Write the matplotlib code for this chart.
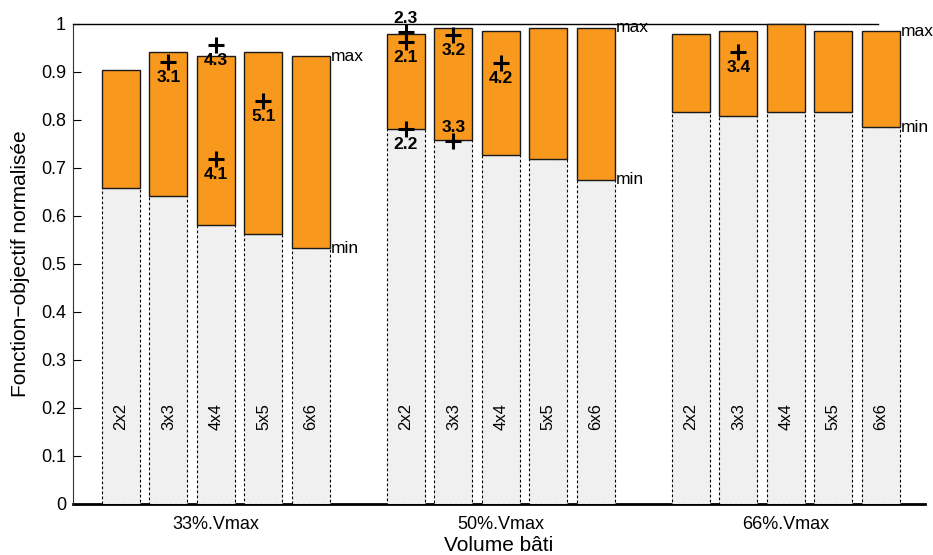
import numpy as np
import matplotlib
matplotlib.use('Agg')
import matplotlib.pyplot as plt

plt.rcParams['font.family'] = ['Liberation Sans', 'DejaVu Sans']

# Data
groups = ['33%.Vmax', '50%.Vmax', '66%.Vmax']
grids = ['2x2', '3x3', '4x4', '5x5', '6x6']
min_vals = [[0.658, 0.642, 0.581, 0.5625, 0.533],
            [0.781, 0.758, 0.727, 0.719, 0.675],
            [0.817, 0.808, 0.817, 0.817, 0.785]]
max_vals = [[0.904, 0.942, 0.933, 0.942, 0.933],
            [0.979, 0.992, 0.985, 0.992, 0.992],
            [0.979, 0.985, 1.000, 0.985, 0.985]]

# marked solutions
pt_labels = ['3.1', '4.3', '4.1', '5.1', '2.3', '2.1', '2.2', '3.2', '3.3', '4.2', '3.4']
pt_group = [0, 0, 0, 0, 1, 1, 1, 1, 1, 1, 2]
pt_grid = [1, 2, 2, 3, 0, 0, 0, 1, 1, 2, 1]
pt_vals = [0.920, 0.956, 0.719, 0.840, 0.983, 0.963, 0.781, 0.977, 0.756, 0.919, 0.942]
pt_above = [False, False, False, False, True, False, False, False, True, False, False]

ORANGE = '#f8981d'
GAP = 6  # slots per group

fig = plt.figure(figsize=(9.33, 5.55), dpi=100)
ax = fig.add_axes([0.0782, 0.0919, 0.9132, 0.8649])

for g in range(len(groups)):
    pos = np.arange(len(grids)) + g * GAP
    lo = np.array(min_vals[g])
    hi = np.array(max_vals[g])
    ax.bar(pos, lo, width=0.8, color='#f0f0f0', edgecolor='k',
           linewidth=0.8, linestyle=(0, (2.5, 2)), zorder=2)
    ax.bar(pos, hi - lo, bottom=lo, width=0.8, color=ORANGE,
           edgecolor='#1a1a1a', linewidth=1.0, zorder=3, clip_on=False)
    for p, name in zip(pos, grids):
        ax.text(p, 0.183, name, rotation=90, ha='center', va='center',
                fontsize=12, zorder=4)
    # max / min labels next to last bar
    ax.text(pos[-1] + 0.42, hi[-1], 'max', ha='left', va='center', fontsize=12.5)
    ax.text(pos[-1] + 0.42, lo[-1], 'min', ha='left', va='center', fontsize=12.5)

# points
for lab, g, i, v, up in zip(pt_labels, pt_group, pt_grid, pt_vals, pt_above):
    x = g * GAP + i
    ax.plot(x, v, marker='+', color='k', markersize=11, mew=2.2,
            zorder=5, clip_on=False)
    dy = 9.5 if up else -11
    ax.annotate(lab, (x, v), xytext=(0, dy), textcoords='offset points',
                ha='center', va='center', fontsize=12.5, fontweight='bold',
                zorder=6, annotation_clip=False)

ax.set_xlim(-1.01, 16.93)
ax.set_ylim(0, 1)
ax.set_yticks(np.arange(0, 1.01, 0.1))
ax.set_yticklabels(['0'] + ['%.1f' % v for v in np.arange(0.1, 0.95, 0.1)] + ['1'])
ax.set_xticks([2, 2 + GAP, 2 + 2 * GAP])
ax.set_xticklabels(groups)
ax.tick_params(axis='y', direction='in', length=6, width=0.8, labelsize=13, pad=5)
ax.tick_params(axis='x', length=0, labelsize=13, pad=9)

ax.spines['right'].set_visible(False)
ax.spines['top'].set_bounds(-1.01, 15.94)
ax.spines['top'].set_linewidth(1.0)
ax.spines['left'].set_color('#333333')
ax.spines['bottom'].set_linewidth(2.0)
ax.spines['bottom'].set_zorder(1)

ax.set_ylabel('Fonction\u2212objectif normalisée', fontsize=15, labelpad=8)
ax.set_xlabel('Volume bâti', fontsize=15, labelpad=2)

fig.savefig('out.png', dpi=100)
